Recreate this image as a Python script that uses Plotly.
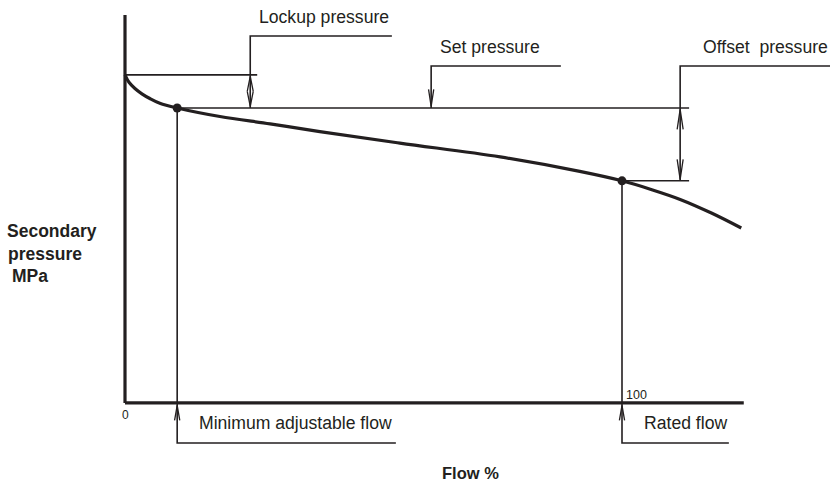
import plotly.graph_objects as go

# ---- data ----
flow_pct = [0, 0.8, 2.0, 3.4, 5.0, 7.0, 10.5, 19.1, 29.2, 39.2, 55.3, 75.5, 91.5, 100,
            106.0, 111.7, 118.1, 124.0]
secondary_pressure = [111.2, 108.7, 106.6, 104.8, 103.2, 101.6, 100.0, 97.1, 94.6, 92.0,
                      88.1, 83.4, 78.5, 75.3, 72.3, 69.0, 64.3, 59.3]
set_pressure = 100.0
lockup_pressure = 111.2
min_flow = 10.5
rated_flow = 100.0
rated_pressure = 75.3
x_tick_labels = ["0", "100"]
y_label_lines = ["Secondary", "pressure", "MPa"]
x_label = "Flow %"

# ---- geometry ----
W, H = 830, 487
X0, X1 = -25.15, 141.85
Y0, Y1 = -28.5, 136.6
sx = W / (X1 - X0)
sy = H / (Y1 - Y0)


def dx(p):
    return p / sx


def dy(p):
    return p / sy


DARK = "#231f20"
FONT = "Liberation Sans, Arial, sans-serif"

fig = go.Figure()


def add_lines(segs, width, color=DARK):
    xs, ys = [], []
    for seg in segs:
        for (x, y) in seg:
            xs.append(x)
            ys.append(y)
        xs.append(None)
        ys.append(None)
    fig.add_trace(go.Scatter(x=xs, y=ys, mode="lines",
                             line=dict(color=color, width=width),
                             hoverinfo="skip", showlegend=False))


def head(x, ytip, direction, length_px, half_px):
    yb = ytip - direction * dy(length_px)
    return [(x - dx(half_px), yb), (x, ytip), (x + dx(half_px), yb)]


# axes
y_top = 131.5
x_end = 124.5
add_lines([[(0, 0), (0, y_top)], [(0, 0), (x_end, 0)]], 3.2)

# reference / callout lines
lock_x = 25.2
set_x = 61.6
off_x = 111.7
line_end = 113.5
upper_call = 124.4
mid_call = 114.2
low_call = -13.6
thin = [
    [(0, lockup_pressure), (26.6, lockup_pressure)],
    [(min_flow, set_pressure), (line_end, set_pressure)],
    [(rated_flow, rated_pressure), (line_end, rated_pressure)],
    [(lock_x, set_pressure), (lock_x, upper_call), (53.7, upper_call)],
    [(set_x, set_pressure), (set_x, mid_call), (87.7, mid_call)],
    [(off_x, rated_pressure), (off_x, mid_call), (X1 + 1, mid_call)],
    [(min_flow, set_pressure), (min_flow, low_call), (54.5, low_call)],
    [(rated_flow, rated_pressure), (rated_flow, low_call), (121.5, low_call)],
]
add_lines(thin, 1.6)

# arrow heads (open V)
heads = [
    head(lock_x, lockup_pressure - dy(1.5), 1, 15, 3),
    head(lock_x, set_pressure + dy(1.5), -1, 15, 3),
    head(set_x, set_pressure + dy(1.5), -1, 17, 2.6),
    head(off_x, set_pressure - dy(1.5), 1, 20, 3),
    head(off_x, rated_pressure + dy(1.5), -1, 20, 3),
    head(min_flow, -dy(2.5), 1, 15, 2.6),
    head(rated_flow, -dy(2.5), 1, 15, 2.6),
]
add_lines(heads, 1.3)

# pressure curve
fig.add_trace(go.Scatter(x=flow_pct, y=secondary_pressure, mode="lines",
                         line=dict(color=DARK, width=3.2, shape="spline", smoothing=1.0),
                         hoverinfo="skip", showlegend=False))
# points
fig.add_trace(go.Scatter(x=[min_flow, rated_flow], y=[set_pressure, rated_pressure],
                         mode="markers", marker=dict(color=DARK, size=9),
                         hoverinfo="skip", showlegend=False))

ann = []


def text(t, x, y, size, xanchor="left", bold=False):
    ann.append(dict(text=("<b>%s</b>" % t) if bold else t, x=x, y=y,
                    xref="x", yref="y", xanchor=xanchor, yanchor="middle",
                    showarrow=False,
                    font=dict(family=FONT, size=size, color=DARK)))


def px_x(p):
    return X0 + p / sx


def px_y(p):
    return Y1 - p / sy


text("Lockup pressure", px_x(257), px_y(17), 17.6)
text("Set pressure", px_x(438), px_y(47), 17.6)
text("Offset\u00a0 pressure", px_x(830), px_y(47), 17.6, xanchor="right")
text("Minimum adjustable flow", px_x(197), px_y(423), 17.6)
text("Rated flow", px_x(642), px_y(423), 17.6)
text(x_tick_labels[0], 0, px_y(415), 12, xanchor="center")
text(x_tick_labels[1], rated_flow + dx(2), px_y(395), 12.5)
text(y_label_lines[0], px_x(5), px_y(231), 17.5, bold=True)
text(y_label_lines[1], px_x(6), px_y(254), 17.5, bold=True)
text(y_label_lines[2], px_x(10), px_y(276), 17.5, bold=True)
text(x_label, px_x(440), px_y(473), 16.5, bold=True)

fig.update_layout(
    width=W, height=H,
    margin=dict(l=0, r=0, t=0, b=0),
    paper_bgcolor="white", plot_bgcolor="white",
    xaxis=dict(range=[X0, X1], visible=False, fixedrange=True),
    yaxis=dict(range=[Y0, Y1], visible=False, fixedrange=True),
    annotations=ann,
)
fig.write_html(
    "out.html",
    config={"displayModeBar": False, "staticPlot": True},
    post_script="document.body.style.margin='0';document.body.style.overflow='hidden';",
)
